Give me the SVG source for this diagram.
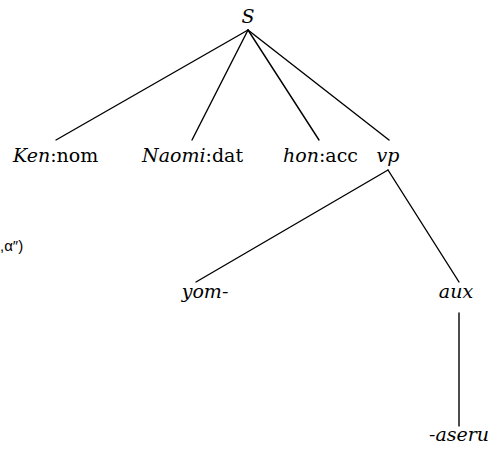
<svg xmlns="http://www.w3.org/2000/svg" width="490" height="450" viewBox="0 0 490 450">
  <style>
    .lbl { font-size: 19px; fill: #000; }
    .it { font-style: italic; }
    .edge { stroke: #000; stroke-width: 1.4; fill: none; stroke-linecap: round; }
    .side { font-size: 15px; fill: #000; }
  </style>
  <rect width="490" height="450" fill="#fff"/>

  <!-- tree branches -->
  <g id="connectors">
    <line class="edge" x1="248" y1="30" x2="56" y2="140"/>
    <line class="edge" x1="248" y1="30" x2="192" y2="140"/>
    <line class="edge" x1="248" y1="30" x2="319" y2="140"/>
    <line class="edge" x1="248" y1="30" x2="389" y2="140"/>
    <line class="edge" x1="388" y1="170" x2="196" y2="282"/>
    <line class="edge" x1="388" y1="170" x2="459" y2="282"/>
    <line class="edge" x1="459" y1="313" x2="459" y2="426"/>
  </g>

  <g font-family="DejaVu Serif, serif">
    <g id="node-S"><text class="lbl it" x="248" y="23" text-anchor="middle">S</text></g>
    <g id="node-ken"><text class="lbl" x="13" y="162"><tspan class="it">Ken</tspan>:nom</text></g>
    <g id="node-naomi"><text class="lbl" x="142" y="162"><tspan class="it">Naomi</tspan>:dat</text></g>
    <g id="node-hon"><text class="lbl" x="283" y="162"><tspan class="it">hon</tspan>:acc</text></g>
    <g id="node-vp"><text class="lbl it" x="388" y="162" text-anchor="middle">vp</text></g>
    <g id="node-yom"><text class="lbl it" x="205" y="298" text-anchor="middle">yom-</text></g>
    <g id="node-aux"><text class="lbl it" x="456" y="298" text-anchor="middle">aux</text></g>
    <g id="node-aseru"><text class="lbl it" x="459" y="441" text-anchor="middle">-aseru</text></g>
  </g>

  <!-- clipped fragment at the left margin -->
  <text class="side" font-family="Liberation Sans, sans-serif" x="0" y="251">,α″)</text>
</svg>
